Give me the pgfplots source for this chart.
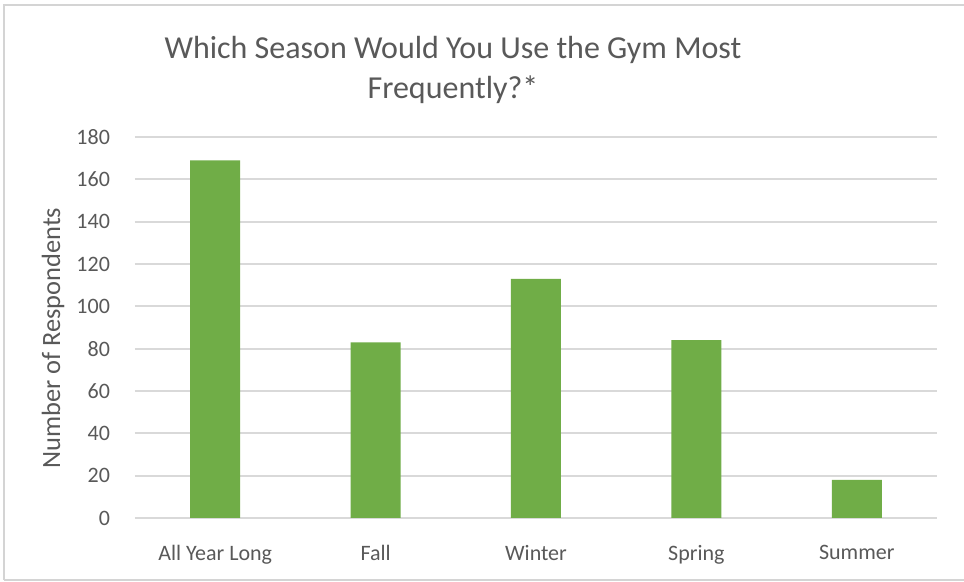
\documentclass[border=0pt]{standalone}
\usepackage{fontspec}
\setmainfont{Carlito}
\usepackage{pgfplots}
\pgfplotsset{compat=1.18}

\definecolor{barGreen}{HTML}{70AD47}
\definecolor{txtGray}{HTML}{595959}
\definecolor{gridGray}{HTML}{D9D9D9}
\definecolor{frameGray}{HTML}{D4D4D4}

\begin{document}
\begin{tikzpicture}
% page frame
\path[use as bounding box] (-67.5pt,-32pt) rectangle (414.5pt,259pt);
\fill[white] (-67.5pt,-32pt) rectangle (414.5pt,259pt);
\draw[frameGray, line width=1.2pt] (-65.5pt,-31pt) -- (-65.5pt,256.5pt) -- (416pt,256.5pt);
\draw[frameGray, line width=1.2pt] (-65.5pt,-31pt) -- (416pt,-31pt);

\begin{axis}[
  at={(0,0)}, anchor=south west,
  scale only axis,
  width=401pt, height=190.5pt,
  xmin=-0.5, xmax=4.5,
  ymin=0, ymax=180,
  ytick={0,20,...,180},
  xtick={0,1,2,3,4},
  xticklabels={All Year Long, Fall, Winter, Spring, Summer},
  axis line style={draw=none},
  major tick length=0pt,
  ymajorgrids,
  grid style={gridGray, line width=0.9pt},
  /pgf/number format/assume math mode=true,
  ticklabel style={font=\fontsize{11}{13}\selectfont, text=txtGray},
  yticklabel style={xshift=-9pt},
  xticklabel style={yshift=-10pt},
  ylabel={Number of Respondents},
  every axis y label/.style={at={(axis description cs:-0.1022,0.472)}, rotate=90, anchor=center,
     font=\fontsize{13.2}{15}\selectfont, text=txtGray},
  title={Which Season Would You Use the Gym Most\\Frequently?*},
  title style={at={(axis description cs:0.3965,1)}, anchor=south, yshift=7pt,
     align=center, font=\fontsize{16}{20}\selectfont, text=txtGray},
]
\addplot[ybar, bar width=25pt, fill=barGreen, draw=none] coordinates {
  (0,169) (1,83) (2,113) (3,84) (4,18)
};
\end{axis}
\end{tikzpicture}
\end{document}
